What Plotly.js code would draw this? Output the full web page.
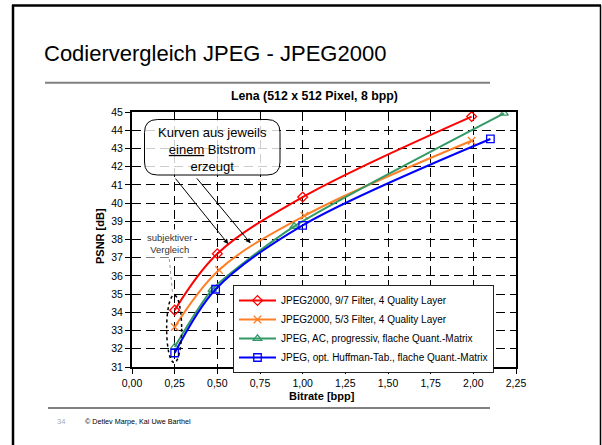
<!DOCTYPE html>
<html>
<head>
<meta charset="utf-8">
<script src="https://cdn.plot.ly/plotly-3.0.1.min.js"></script>
<style>
html,body{margin:0;padding:0;background:#fff;}
#chart{width:602px;height:445px;}
</style>
</head>
<body>
<div id="chart"></div>
<script>
// ---- data ----
const seriesNames = [
  "JPEG2000, 9/7 Filter, 4 Quality Layer",
  "JPEG2000, 5/3 Filter, 4 Quality Layer",
  "JPEG, AC, progressiv, flache Quant.-Matrix",
  "JPEG, opt. Huffman-Tab., flache Quant.-Matrix"
];
const j2k97Rate = [0.25, 0.50, 1.00, 1.99];
const j2k97Psnr = [34.12, 37.22, 40.33, 44.75];
const j2k53Rate = [0.25, 0.51, 1.01, 1.99];
const j2k53Psnr = [33.20, 36.33, 39.30, 43.42];
const jpegAcRate = [0.25, 0.47, 0.95, 2.18];
const jpegAcPsnr = [32.10, 35.25, 38.72, 44.93];
const jpegHuffRate = [0.25, 0.49, 1.00, 2.10];
const jpegHuffPsnr = [31.77, 35.27, 38.78, 43.52];
const xTicks = [0, 0.25, 0.5, 0.75, 1, 1.25, 1.5, 1.75, 2, 2.25];
const yTicks = [31, 32, 33, 34, 35, 36, 37, 38, 39, 40, 41, 42, 43, 44, 45];

// ---- layout helpers (pixel -> paper) ----
const L = 132, T = 112, W = 384, H = 255;
const px = x => (x - L) / W;
const py = y => (T + H - y) / H;
const FONT = "Arial, 'Liberation Sans', Helvetica, sans-serif";

function trace(x, y, name, color, symbol, smooth) {
  return {
    x: x, y: y, name: name, type: 'scatter', mode: 'lines+markers',
    line: {color: color, width: 2, shape: 'spline', smoothing: smooth},
    marker: {symbol: symbol, size: 7.5, color: color, line: {color: color, width: 1.3}}
  };
}

const data = [
  trace(j2k97Rate, j2k97Psnr, seriesNames[0], '#ff0000', 'diamond-open', 1),
  trace(j2k53Rate, j2k53Psnr, seriesNames[1], '#ff7f27', 'x-thin-open', 1),
  trace(jpegAcRate, jpegAcPsnr, seriesNames[2], '#339966', 'triangle-up-open', 0.6),
  trace(jpegHuffRate, jpegHuffPsnr, seriesNames[3], '#0000ff', 'square-open', 0.9)
];

// rounded callout path
function roundRect(x0, y0, x1, y1, r) {
  const X = v => px(v), Y = v => py(v);
  return `M${X(x0 + r)},${Y(y0)} L${X(x1 - r)},${Y(y0)} Q${X(x1)},${Y(y0)} ${X(x1)},${Y(y0 + r)} ` +
         `L${X(x1)},${Y(y1 - r)} Q${X(x1)},${Y(y1)} ${X(x1 - r)},${Y(y1)} ` +
         `L${X(x0 + r)},${Y(y1)} Q${X(x0)},${Y(y1)} ${X(x0)},${Y(y1 - r)} ` +
         `L${X(x0)},${Y(y0 + r)} Q${X(x0)},${Y(y0)} ${X(x0 + r)},${Y(y0)} Z`;
}

const shapes = [
  // slide frame
  {type: 'line', xref: 'paper', yref: 'paper', x0: px(12), x1: px(601), y0: py(5.5), y1: py(5.5), line: {color: '#000', width: 2.5}},
  {type: 'line', xref: 'paper', yref: 'paper', x0: px(13), x1: px(13), y0: py(5), y1: py(446), line: {color: '#000', width: 2.5}},
  {type: 'line', xref: 'paper', yref: 'paper', x0: px(600.5), x1: px(600.5), y0: py(5), y1: py(446), line: {color: '#000', width: 1.5}},
  // title rule & footer rule
  {type: 'line', xref: 'paper', yref: 'paper', x0: px(45), x1: px(490), y0: py(82.7), y1: py(82.7), line: {color: '#808080', width: 2}},
  {type: 'line', xref: 'paper', yref: 'paper', x0: px(48), x1: px(490), y0: py(408), y1: py(408), line: {color: '#808080', width: 2}},
  // callout box
  {type: 'path', xref: 'paper', yref: 'paper', path: roundRect(144.5, 119.5, 280, 175, 13),
   fillcolor: 'rgba(255,255,255,0.8)', line: {color: '#000', width: 1}},
  // dotted ellipse around 0.25 bpp
  {type: 'circle', xref: 'x', yref: 'y', x0: 0.203, x1: 0.291, y0: 31.24, y1: 34.95,
   line: {color: '#000', width: 1.5, dash: 'dot'}},
  // gray leader from label to ellipse
  {type: 'line', xref: 'paper', yref: 'paper', x0: px(169.3), y0: py(259), x1: px(172.7), y1: py(295),
   line: {color: '#999', width: 1, dash: 'dot'}}
];

const annotations = [
  {xref: 'paper', yref: 'paper', x: px(42), y: py(54), xanchor: 'left', yanchor: 'middle', showarrow: false,
   text: 'Codiervergleich JPEG - JPEG2000', font: {family: FONT, size: 22, color: '#000'}},
  {xref: 'paper', yref: 'paper', x: px(314), y: py(95.5), xanchor: 'center', yanchor: 'middle', showarrow: false,
   text: '<b>Lena (512 x 512 Pixel, 8 bpp)</b>', font: {family: FONT, size: 12.3, color: '#000'}},
  {xref: 'paper', yref: 'paper', x: px(100), y: py(236), xanchor: 'center', yanchor: 'middle', showarrow: false,
   textangle: -90, text: '<b>PSNR [dB]</b>', font: {family: FONT, size: 11, color: '#000'}},
  {xref: 'paper', yref: 'paper', x: px(322), y: py(395.5), xanchor: 'center', yanchor: 'middle', showarrow: false,
   text: '<b>Bitrate [bpp]</b>', font: {family: FONT, size: 11, color: '#000'}},
  {xref: 'paper', yref: 'paper', x: px(212), y: py(149.5), xanchor: 'center', yanchor: 'middle', showarrow: false,
   text: 'Kurven aus jeweils<br><u>einem</u> Bitstrom<br>erzeugt', font: {family: FONT, size: 13, color: '#000'}},
  {xref: 'paper', yref: 'paper', x: px(169.5), y: py(243), xanchor: 'center', yanchor: 'middle', showarrow: false,
   text: 'subjektiver<br>Vergleich', bgcolor: '#fff', borderpad: 2, font: {family: FONT, size: 9.5, color: '#333'}},
  // arrows
  {xref: 'x', yref: 'y', x: 0.564, y: 37.75, axref: 'pixel', ayref: 'pixel', ax: -54, ay: -67, showarrow: true,
   text: '', arrowhead: 2, arrowsize: 1, arrowwidth: 1, arrowcolor: '#000'},
  {xref: 'x', yref: 'y', x: 0.695, y: 37.79, axref: 'pixel', ayref: 'pixel', ax: -55, ay: -66.5, showarrow: true,
   text: '', arrowhead: 2, arrowsize: 1, arrowwidth: 1, arrowcolor: '#000'},
  // footer
  {xref: 'paper', yref: 'paper', x: px(55), y: py(421), xanchor: 'left', yanchor: 'middle', showarrow: false,
   text: '34', font: {family: FONT, size: 7.5, color: '#aaa'}},
  {xref: 'paper', yref: 'paper', x: px(82.5), y: py(421), xanchor: 'left', yanchor: 'middle', showarrow: false,
   text: '© Detlev Marpe, Kai Uwe Barthel', font: {family: FONT, size: 7.2, color: '#000'}}
];

const axisCommon = {
  showline: true, linecolor: '#000', linewidth: 2, mirror: true,
  ticks: 'outside', ticklen: 5, tickwidth: 1, tickcolor: '#000',
  showgrid: true, gridcolor: '#000', gridwidth: 1, griddash: '9px,5px',
  zeroline: false, tickfont: {family: FONT, size: 10.5, color: '#000'}, fixedrange: true
};

const layout = {
  width: 602, height: 445,
  margin: {l: L, r: 602 - L - W, t: T, b: 445 - T - H, pad: 0},
  paper_bgcolor: '#fff', plot_bgcolor: '#fff',
  font: {family: FONT, color: '#000'},
  separators: ',.',
  showlegend: true,
  legend: {
    x: px(233), y: py(285), xanchor: 'left', yanchor: 'top',
    bgcolor: '#fff', bordercolor: '#222', borderwidth: 1,
    font: {family: FONT, size: 10, color: '#000'}, itemwidth: 37, tracegroupgap: 0
  },
  xaxis: Object.assign({}, axisCommon, {range: [0, 2.25], tickvals: xTicks, tickformat: '.2f'}),
  yaxis: Object.assign({}, axisCommon, {range: [31, 45], tickvals: yTicks, tickformat: 'd'}),
  shapes: shapes,
  annotations: annotations
};

Plotly.newPlot('chart', data, layout, {displayModeBar: false, staticPlot: true});
</script>
</body>
</html>
